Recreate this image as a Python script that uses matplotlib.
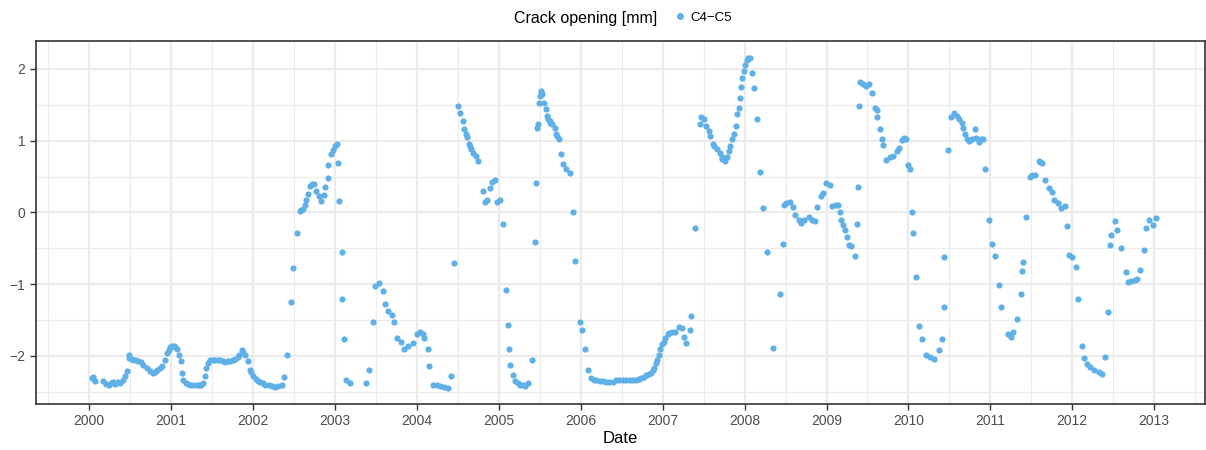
import matplotlib.pyplot as plt
from matplotlib.lines import Line2D
from matplotlib.ticker import MultipleLocator

plt.rcParams['font.family'] = ['Liberation Sans', 'DejaVu Sans']

# decimal year of each reading, and crack opening in mm
dates = [
    2000.03, 2000.05, 2000.07, 2000.17, 2000.21, 2000.24, 2000.26, 2000.29, 2000.32, 2000.35,
    2000.37, 2000.41, 2000.44, 2000.46, 2000.48, 2000.49, 2000.52, 2000.54, 2000.57, 2000.60,
    2000.63, 2000.66, 2000.70, 2000.74, 2000.78, 2000.80, 2000.83, 2000.86, 2000.89, 2000.93,
    2000.95, 2000.97, 2000.99, 2001.01, 2001.03, 2001.05, 2001.07, 2001.10, 2001.12, 2001.13,
    2001.15, 2001.18, 2001.20, 2001.23, 2001.27, 2001.31, 2001.34, 2001.37, 2001.39, 2001.41,
    2001.42, 2001.45, 2001.48, 2001.51, 2001.54, 2001.57, 2001.60, 2001.63, 2001.66, 2001.69,
    2001.72, 2001.75, 2001.78, 2001.81, 2001.83, 2001.86, 2001.88, 2001.90, 2001.94, 2001.96,
    2001.98, 2002.00, 2002.03, 2002.06, 2002.09, 2002.12, 2002.15, 2002.19, 2002.23, 2002.27,
    2002.31, 2002.35, 2002.38, 2002.42, 2002.46, 2002.49, 2002.53, 2002.57, 2002.59, 2002.61,
    2002.63, 2002.65, 2002.67, 2002.70, 2002.72, 2002.74, 2002.77, 2002.80, 2002.83, 2002.87,
    2002.88, 2002.91, 2002.92, 2002.95, 2002.98, 2003.00, 2003.02, 2003.04, 2003.05, 2003.08,
    2003.09, 2003.11, 2003.14, 2003.18, 2003.38, 2003.42, 2003.46, 2003.49, 2003.54, 2003.58,
    2003.61, 2003.65, 2003.69, 2003.72, 2003.76, 2003.80, 2003.84, 2003.89, 2003.95, 2004.00,
    2004.04, 2004.07, 2004.09, 2004.13, 2004.15, 2004.20, 2004.24, 2004.28, 2004.33, 2004.38,
    2004.42, 2004.45, 2004.50, 2004.53, 2004.56, 2004.57, 2004.60, 2004.61, 2004.63, 2004.65,
    2004.66, 2004.69, 2004.72, 2004.75, 2004.81, 2004.83, 2004.86, 2004.89, 2004.92, 2004.95,
    2004.98, 2005.02, 2005.05, 2005.09, 2005.11, 2005.13, 2005.14, 2005.17, 2005.20, 2005.23,
    2005.26, 2005.29, 2005.32, 2005.36, 2005.40, 2005.44, 2005.45, 2005.47, 2005.48, 2005.49,
    2005.50, 2005.51, 2005.52, 2005.53, 2005.55, 2005.57, 2005.59, 2005.60, 2005.62, 2005.63,
    2005.65, 2005.68, 2005.70, 2005.71, 2005.73, 2005.76, 2005.78, 2005.82, 2005.87, 2005.90,
    2005.93, 2005.99, 2006.01, 2006.05, 2006.09, 2006.13, 2006.16, 2006.19, 2006.23, 2006.27,
    2006.31, 2006.35, 2006.39, 2006.43, 2006.47, 2006.51, 2006.55, 2006.60, 2006.64, 2006.68,
    2006.71, 2006.74, 2006.77, 2006.80, 2006.83, 2006.86, 2006.88, 2006.90, 2006.92, 2006.93,
    2006.95, 2006.97, 2006.99, 2007.01, 2007.03, 2007.06, 2007.08, 2007.11, 2007.15, 2007.20,
    2007.24, 2007.26, 2007.28, 2007.33, 2007.35, 2007.39, 2007.45, 2007.47, 2007.50, 2007.53,
    2007.56, 2007.58, 2007.61, 2007.63, 2007.66, 2007.70, 2007.72, 2007.73, 2007.76, 2007.78,
    2007.81, 2007.82, 2007.85, 2007.87, 2007.89, 2007.91, 2007.93, 2007.94, 2007.96, 2007.97,
    2007.99, 2008.01, 2008.03, 2008.04, 2008.06, 2008.09, 2008.12, 2008.15, 2008.19, 2008.23,
    2008.27, 2008.35, 2008.43, 2008.47, 2008.48, 2008.51, 2008.55, 2008.59, 2008.62, 2008.66,
    2008.69, 2008.73, 2008.78, 2008.82, 2008.86, 2008.88, 2008.93, 2008.96, 2008.99, 2009.04,
    2009.07, 2009.11, 2009.14, 2009.16, 2009.18, 2009.20, 2009.22, 2009.25, 2009.27, 2009.30,
    2009.35, 2009.37, 2009.38, 2009.40, 2009.41, 2009.45, 2009.48, 2009.52, 2009.56, 2009.59,
    2009.61, 2009.62, 2009.65, 2009.68, 2009.69, 2009.73, 2009.77, 2009.81, 2009.86, 2009.89,
    2009.92, 2009.95, 2009.97, 2010.00, 2010.02, 2010.04, 2010.06, 2010.09, 2010.13, 2010.17,
    2010.21, 2010.26, 2010.31, 2010.37, 2010.41, 2010.43, 2010.44, 2010.48, 2010.52, 2010.55,
    2010.59, 2010.62, 2010.65, 2010.67, 2010.69, 2010.71, 2010.74, 2010.77, 2010.81, 2010.83,
    2010.86, 2010.89, 2010.91, 2010.94, 2010.98, 2011.02, 2011.06, 2011.10, 2011.13, 2011.21,
    2011.25, 2011.28, 2011.33, 2011.37, 2011.39, 2011.40, 2011.44, 2011.48, 2011.51, 2011.55,
    2011.59, 2011.61, 2011.63, 2011.67, 2011.71, 2011.75, 2011.78, 2011.82, 2011.86, 2011.91,
    2011.94, 2011.96, 2012.00, 2012.04, 2012.07, 2012.12, 2012.14, 2012.18, 2012.22, 2012.27,
    2012.32, 2012.36, 2012.40, 2012.43, 2012.46, 2012.47, 2012.52, 2012.55, 2012.59, 2012.65,
    2012.68, 2012.72, 2012.76, 2012.79, 2012.83, 2012.87, 2012.90, 2012.94, 2012.98, 2013.02,
]

opening = [
    -2.31, -2.30, -2.35, -2.35, -2.39, -2.40, -2.38, -2.37, -2.39, -2.37,
    -2.38, -2.34, -2.28, -2.21, -1.98, -2.03, -2.04, -2.05, -2.06, -2.07,
    -2.09, -2.12, -2.17, -2.21, -2.24, -2.22, -2.20, -2.17, -2.14, -2.05,
    -1.96, -1.92, -1.88, -1.86, -1.86, -1.88, -1.91, -1.98, -2.07, -2.24,
    -2.33, -2.38, -2.39, -2.40, -2.40, -2.40, -2.41, -2.40, -2.38, -2.28,
    -2.17, -2.10, -2.05, -2.05, -2.05, -2.05, -2.06, -2.07, -2.08, -2.07,
    -2.07, -2.05, -2.04, -2.01, -1.99, -1.92, -1.95, -1.98, -2.07, -2.19,
    -2.22, -2.28, -2.32, -2.35, -2.36, -2.38, -2.40, -2.41, -2.42, -2.43,
    -2.42, -2.40, -2.30, -1.99, -1.25, -0.78, -0.29, 0.02, 0.04, 0.05,
    0.10, 0.18, 0.26, 0.37, 0.39, 0.40, 0.30, 0.23, 0.16, 0.24,
    0.36, 0.48, 0.66, 0.82, 0.87, 0.92, 0.96, 0.69, 0.16, -0.55,
    -1.21, -1.76, -2.34, -2.38, -2.38, -2.19, -1.52, -1.03, -0.99, -1.10,
    -1.28, -1.38, -1.43, -1.53, -1.75, -1.81, -1.91, -1.86, -1.82, -1.70,
    -1.66, -1.70, -1.75, -1.91, -2.14, -2.40, -2.41, -2.42, -2.43, -2.44,
    -2.28, -0.71, 1.48, 1.39, 1.28, 1.17, 1.10, 1.05, 0.95, 0.92,
    0.89, 0.83, 0.79, 0.72, 0.30, 0.14, 0.18, 0.34, 0.42, 0.45,
    0.14, 0.18, -0.16, -1.08, -1.57, -1.90, -2.13, -2.27, -2.35, -2.38,
    -2.40, -2.41, -2.42, -2.38, -2.06, -0.41, 0.41, 1.18, 1.24, 1.53,
    1.62, 1.69, 1.67, 1.65, 1.53, 1.44, 1.34, 1.30, 1.27, 1.25,
    1.23, 1.18, 1.09, 1.06, 1.02, 0.81, 0.68, 0.61, 0.55, 0.00,
    -0.67, -1.52, -1.64, -1.91, -2.19, -2.31, -2.33, -2.34, -2.35, -2.35,
    -2.36, -2.37, -2.36, -2.34, -2.33, -2.33, -2.33, -2.33, -2.33, -2.33,
    -2.32, -2.31, -2.29, -2.27, -2.25, -2.24, -2.20, -2.17, -2.10, -2.05,
    -1.98, -1.91, -1.84, -1.80, -1.75, -1.70, -1.68, -1.67, -1.66, -1.59,
    -1.61, -1.73, -1.82, -1.64, -1.45, -0.22, 1.23, 1.33, 1.30, 1.21,
    1.14, 1.06, 0.96, 0.92, 0.88, 0.83, 0.77, 0.74, 0.72, 0.78,
    0.85, 0.92, 1.02, 1.09, 1.20, 1.37, 1.45, 1.59, 1.75, 1.88,
    1.97, 2.06, 2.13, 2.15, 2.16, 1.95, 1.73, 1.30, 0.57, 0.06,
    -0.55, -1.89, -1.14, -0.44, 0.11, 0.13, 0.15, 0.07, -0.03, -0.10,
    -0.14, -0.10, -0.06, -0.10, -0.12, 0.07, 0.23, 0.27, 0.41, 0.38,
    0.09, 0.11, 0.10, 0.00, -0.10, -0.17, -0.25, -0.34, -0.45, -0.47,
    -0.60, -0.16, 0.36, 1.48, 1.82, 1.79, 1.76, 1.79, 1.66, 1.46,
    1.43, 1.33, 1.17, 1.03, 0.94, 0.73, 0.78, 0.79, 0.85, 0.90,
    1.01, 1.04, 1.02, 0.66, 0.61, 0.00, -0.29, -0.90, -1.58, -1.76,
    -1.99, -2.02, -2.04, -1.92, -1.76, -1.32, -0.62, 0.87, 1.33, 1.38,
    1.35, 1.30, 1.25, 1.18, 1.10, 1.03, 0.99, 1.02, 1.16, 1.04,
    0.98, 1.02, 1.03, 0.61, -0.10, -0.44, -0.60, -1.01, -1.32, -1.69,
    -1.74, -1.66, -1.48, -1.13, -0.81, -0.69, -0.06, 0.50, 0.52, 0.52,
    0.72, 0.71, 0.69, 0.45, 0.34, 0.28, 0.17, 0.13, 0.06, 0.09,
    -0.19, -0.59, -0.62, -0.76, -1.20, -1.86, -2.03, -2.11, -2.16, -2.20,
    -2.23, -2.25, -2.02, -1.39, -0.46, -0.32, -0.12, -0.25, -0.50, -0.83,
    -0.97, -0.96, -0.94, -0.93, -0.80, -0.53, -0.21, -0.11, -0.17, -0.08,
]

years = list(range(2000, 2014))
series_name = "C4\u2212C5"
legend_title = "Crack opening [mm]"

point_col = "#5EB0E6"
grid_col = "#EBEBEB"
dark = "#333333"

fig = plt.figure(figsize=(12.06, 4.5), dpi=100)
ax = fig.add_axes([36 / 1206, 46 / 450, 1169 / 1206, 363 / 450])

ax.scatter(dates, opening, s=20, color=point_col, linewidths=0, zorder=3)

ax.set_xlim(1999.35, 2013.62)
ax.set_ylim(-2.67, 2.39)
ax.set_xticks(years)
ax.set_xticklabels([str(y) for y in years])
ax.xaxis.set_minor_locator(MultipleLocator(0.5))
ax.yaxis.set_major_locator(MultipleLocator(1))
ax.yaxis.set_minor_locator(MultipleLocator(0.5))

ax.grid(which="major", color=grid_col, linewidth=1.6, zorder=0)
ax.grid(which="minor", color=grid_col, linewidth=0.8, zorder=0)
ax.set_axisbelow(True)

for sp in ax.spines.values():
    sp.set_color(dark)
    sp.set_linewidth(1.2)

ax.tick_params(which="major", direction="out", length=4, width=1, color=dark,
               labelsize=10, labelcolor="#4D4D4D")
ax.tick_params(which="minor", length=0)
ax.set_xlabel("Date", fontsize=12, color="black", labelpad=2)

# legend on top: title, key and label in one row
fig.text(657 / 1206, 1 - 18 / 450, legend_title, ha="right", va="center", fontsize=11.5)
key = Line2D([], [], marker="o", linestyle="none", markersize=5,
             markerfacecolor=point_col, markeredgewidth=0)
fig.legend(handles=[key], labels=[series_name], loc="center left",
           bbox_to_anchor=(668 / 1206, 1 - 18 / 450), frameon=False,
           handlelength=1.0, handletextpad=0.3, fontsize=9.5, borderaxespad=0)

fig.savefig("out.png", dpi=100)
